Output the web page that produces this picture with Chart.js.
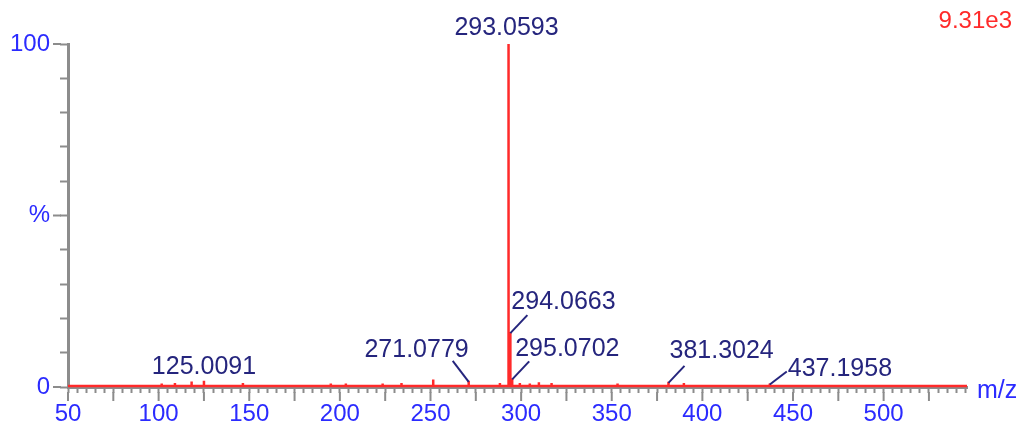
<!DOCTYPE html>
<html>
<head>
<meta charset="utf-8">
<script src="https://cdn.jsdelivr.net/npm/chart.js@4/dist/chart.umd.min.js"></script>
<style>
  html, body { margin: 0; padding: 0; background: #ffffff; }
  #wrap { width: 1024px; height: 427px; position: relative; }
</style>
</head>
<body>
<div id="wrap"><canvas id="c" width="1024" height="427"></canvas></div>
<script>
// ---- data ----
const mzValues    = [101.7, 109.0, 118.2, 125.0091, 146.5, 195.0, 203.3, 223.6, 234.0, 251.5, 271.0779, 288.3, 293.0593, 294.0663, 295.0702, 299.3, 304.8, 309.8, 316.8, 353.2, 381.3024, 389.8, 437.1958];
const intensities = [1.0,   1.2,   1.6,   1.8,      1.2,   1.0,   1.0,   1.0,   1.2,   2.2,   1.8,      1.2,   100.0,    16.0,     2.5,      1.2,   1.0,   1.4,   1.2,   1.0,   1.5,      1.2,   1.0];
const baselineLevel = 0.3;
const mzRange = [50, 546];
const labeledPeaks = [125.0091, 271.0779, 293.0593, 294.0663, 295.0702, 381.3024, 437.1958];
const xTickLabelValues = [50, 100, 150, 200, 250, 300, 350, 400, 450, 500];
const yTickLabels = { 0: '0', 50: '%', 100: '100' };
const scaleFactorText = '9.31e3';
const xAxisTitle = 'm/z';

// ---- build line points (stick spectrum) from the arrays ----
const points = [{ x: mzRange[0], y: baselineLevel }];
mzValues.forEach((m, i) => {
  points.push({ x: m, y: baselineLevel });
  points.push({ x: m, y: intensities[i] });
  points.push({ x: m, y: baselineLevel });
});
points.push({ x: mzRange[1], y: baselineLevel });

// ---- annotation layout (pixel offsets from the peak top) ----
const annotLayout = {
  '125.0091': { align: 'center', dx: 0,   dy: -14, leader: null },
  '271.0779': { align: 'right',  dx: 0,   dy: -31, leader: [-16, -20] },
  '293.0593': { align: 'center', dx: -2,  dy: -16, leader: null },
  '294.0663': { align: 'left',   dx: 1,   dy: -30, leader: [17, -17] },
  '295.0702': { align: 'left',   dx: 3,   dy: -29, leader: [17, -17] },
  '381.3024': { align: 'left',   dx: 1,   dy: -31, leader: [16, -16] },
  '437.1958': { align: 'left',   dx: 18,  dy: -14, leader: [17, -12] }
};

const AXIS_GREY = '#8c8c8c';
const TICK_BLUE = '#2b2bff';
const NAVY = '#25257d';
const RED = '#ff2a2a';
const FONT = '"Liberation Sans", Arial, sans-serif';

const overlayPlugin = {
  id: 'overlay',
  afterDraw(chart) {
    const ctx = chart.ctx;
    const xs = chart.scales.x, ys = chart.scales.y;
    const area = chart.chartArea;
    ctx.save();
    // longer major ticks on y axis
    ctx.strokeStyle = AXIS_GREY; ctx.lineWidth = 2;
    Object.keys(yTickLabels).forEach(v => {
      const py = ys.getPixelForValue(+v);
      ctx.beginPath(); ctx.moveTo(area.left - 15, py); ctx.lineTo(area.left - 7, py); ctx.stroke();
    });
    // longer ticks every 25 on x axis
    for (let v = 50; v <= 545; v += 25) {
      const px = xs.getPixelForValue(v);
      ctx.beginPath(); ctx.moveTo(px, area.bottom + 5); ctx.lineTo(px, area.bottom + 14); ctx.stroke();
    }
    // annotations
    ctx.font = '25px ' + FONT;
    ctx.fillStyle = NAVY; ctx.strokeStyle = NAVY; ctx.lineWidth = 2;
    ctx.textBaseline = 'middle';
    labeledPeaks.forEach(m => {
      const idx = mzValues.indexOf(m);
      const px = xs.getPixelForValue(m);
      const py = ys.getPixelForValue(intensities[idx]);
      const key = m.toFixed(4);
      const L = annotLayout[key];
      if (L.leader) {
        ctx.beginPath(); ctx.moveTo(px, py + 1); ctx.lineTo(px + L.leader[0], py + L.leader[1]); ctx.stroke();
      }
      ctx.textAlign = L.align;
      ctx.fillText(key, px + L.dx, py + L.dy);
    });
    // scale factor
    ctx.fillStyle = RED; ctx.font = '24px ' + FONT; ctx.textAlign = 'right';
    ctx.fillText(scaleFactorText, 1012, 21);
    // axis title
    ctx.fillStyle = TICK_BLUE; ctx.font = '25px ' + FONT; ctx.textAlign = 'left';
    ctx.fillText(xAxisTitle, 977, 391);
    ctx.restore();
  }
};

new Chart(document.getElementById('c'), {
  type: 'line',
  data: {
    datasets: [{
      data: points,
      borderColor: RED,
      borderWidth: 2.5,
      pointRadius: 0,
      tension: 0,
      clip: false
    }]
  },
  options: {
    responsive: false,
    animation: false,
    devicePixelRatio: 1,
    layout: { padding: { top: 44, right: 57, left: 0, bottom: 0 } },
    plugins: { legend: { display: false }, tooltip: { enabled: false } },
    scales: {
      x: {
        type: 'linear',
        min: mzRange[0], max: mzRange[1],
        afterFit: s => { s.height = 40; },
        border: { color: AXIS_GREY, width: 3 },
        grid: { drawOnChartArea: false, drawTicks: true, tickLength: 6, tickColor: AXIS_GREY, tickWidth: 2 },
        ticks: {
          stepSize: 5, includeBounds: false, autoSkip: false, maxRotation: 0, maxTicksLimit: 500,
          padding: 7, color: TICK_BLUE, font: { family: FONT, size: 24 },
          callback: v => xTickLabelValues.includes(v) ? String(v) : ''
        }
      },
      y: {
        min: 0, max: 100,
        afterFit: s => { s.width = 68; },
        border: { color: AXIS_GREY, width: 3 },
        grid: { drawOnChartArea: false, drawTicks: true, tickLength: 8, tickColor: AXIS_GREY, tickWidth: 2 },
        ticks: {
          stepSize: 10, autoSkip: false, padding: 10, color: TICK_BLUE, font: { family: FONT, size: 24 },
          callback: v => (yTickLabels[v] !== undefined ? yTickLabels[v] : '')
        }
      }
    }
  },
  plugins: [overlayPlugin]
});
</script>
</body>
</html>
